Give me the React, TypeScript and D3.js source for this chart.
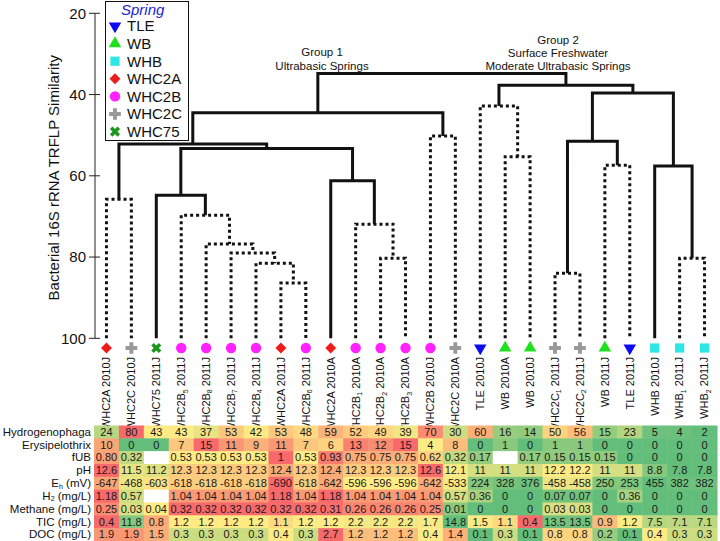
import React from "react";
import * as d3 from "d3";

// leaves of the dendrogram, left to right (underscore = subscript)
const leafLabels = [
  "WHC2A 2010J", "WHC2C 2010J", "WHC75 2011J", "WHC2B_5 2011J", "WHC2B_8 2011J",
  "WHC2B_7 2011J", "WHC2B_4 2011J", "WHC2A 2011J", "WHC2B_6 2011J", "WHC2A 2010A",
  "WHC2B_1 2010A", "WHC2B_2 2010A", "WHC2B_3 2010A", "WHC2B 2010J", "WHC2C 2010A",
  "TLE 2010J", "WB 2010A", "WB 2010J", "WHC2C_1 2011J", "WHC2C_2 2011J",
  "WB 2011J", "TLE 2011J", "WHB 2010J", "WHB_1 2011J", "WHB_2 2011J",
];
const leafSprings = [
  "WHC2A", "WHC2C", "WHC75", "WHC2B", "WHC2B", "WHC2B", "WHC2B", "WHC2A", "WHC2B", "WHC2A",
  "WHC2B", "WHC2B", "WHC2B", "WHC2B", "WHC2C", "TLE", "WB", "WB", "WHC2C", "WHC2C",
  "WB", "TLE", "WHB", "WHB", "WHB",
];

const springNames = ["TLE", "WB", "WHB", "WHC2A", "WHC2B", "WHC2C", "WHC75"];
const springColors = ["#0b0bf2", "#1fe01f", "#2de6e6", "#ee1b1b", "#ff22ff", "#999999", "#1d961d"];
const springShapes = ["triDown", "triUp", "square", "diamond", "circle", "plus", "times"];

// linkage: [child a, child b, similarity]; ids >= 25 are earlier merges
const merges: [number, number, number][] = [
  [7, 8, 86.4], [6, 25, 81.5], [5, 26, 79.0], [4, 27, 76.8], [3, 28, 69.7],
  [2, 29, 64.8], [11, 12, 80.3], [10, 31, 71.9], [9, 32, 61.2], [30, 33, 53.3],
  [0, 1, 65.8], [35, 34, 52.2], [13, 14, 50.2], [36, 37, 44.5], [16, 17, 55.3],
  [15, 39, 42.8], [18, 19, 84.0], [20, 21, 57.4], [41, 42, 51.5], [23, 24, 80.3],
  [22, 44, 57.6], [43, 45, 39.6], [40, 46, 37.7], [38, 47, 34.8],
];
const significant = [
  false, false, false, false, false, true, false, false, true, true,
  false, true, false, true, false, false, false, false, true, false,
  true, true, true, true,
];

const rowLabels = ["Hydrogenophaga", "Erysipelothrix", "fUB", "pH", "E_h (mV)", "H_2 (mg/L)", "Methane (mg/L)", "TIC (mg/L)", "DOC (mg/L)"];
const hydrogenophaga = [24, 80, 43, 43, 37, 53, 42, 53, 48, 59, 52, 49, 39, 70, 30, 60, 16, 14, 50, 56, 15, 23, 5, 4, 2];
const erysipelothrix = [10, 0, 0, 7, 15, 11, 9, 11, 7, 6, 13, 12, 15, 4, 8, 0, 1, 0, 1, 1, 0, 0, 0, 0, 0];
const fUB = [0.8, 0.32, null, 0.53, 0.53, 0.53, 0.53, 1, 0.53, 0.93, 0.75, 0.75, 0.75, 0.62, 0.32, 0.17, null, 0.17, 0.15, 0.15, 0.15, 0, 0, 0, 0];
const pH = [12.6, 11.5, 11.2, 12.3, 12.3, 12.3, 12.3, 12.4, 12.3, 12.4, 12.3, 12.3, 12.3, 12.6, 12.1, 11, 11, 11, 12.2, 12.2, 11, 11, 8.8, 7.8, 7.8];
const eh = [-647, -468, -603, -618, -618, -618, -618, -690, -618, -642, -596, -596, -596, -642, -533, 224, 328, 376, -458, -458, 250, 253, 455, 382, 382];
const h2 = [1.18, 0.57, null, 1.04, 1.04, 1.04, 1.04, 1.18, 1.04, 1.18, 1.04, 1.04, 1.04, 1.04, 0.57, 0.36, 0, 0, 0.07, 0.07, 0, 0.36, 0, 0, 0];
const methane = [0.25, 0.03, 0.04, 0.32, 0.32, 0.32, 0.32, 0.32, 0.32, 0.31, 0.26, 0.26, 0.26, 0.25, 0.01, 0, 0, 0, 0.03, 0.03, 0, 0, 0, 0, 0];
const tic = [0.4, 11.8, 0.8, 1.2, 1.2, 1.2, 1.2, 1.1, 1.2, 1.2, 2.2, 2.2, 2.2, 1.7, 14.8, 1.5, 1.1, 0.4, 13.5, 13.5, 0.9, 1.2, 7.5, 7.1, 7.1];
const doc = [1.9, 1.9, 1.5, 0.3, 0.3, 0.3, 0.3, 0.4, 0.3, 2.7, 1.2, 1.2, 1.2, 0.4, 1.4, 0.1, 0.3, 0.1, 0.8, 0.8, 0.2, 0.1, 0.4, 0.3, 0.3];
const rowValues = [hydrogenophaga, erysipelothrix, fUB, pH, eh, h2, methane, tic, doc];
const lowIsRed = [false, false, false, false, true, false, false, true, false];
const twoDecimals = [false, false, true, false, false, true, true, false, false];

const yTicks = [20, 40, 60, 80, 100];

const RED = "#f8696b", YELLOW = "#ffeb84", GREEN = "#63be7b";
const narrow = "'Liberation Sans Narrow', 'Arial Narrow', sans-serif";
const sans = "'Liberation Sans', Arial, Helvetica, sans-serif";

function symbolPath(shape: string, size: number) {
  if (shape === "triUp" || shape === "triDown") return d3.symbol(d3.symbolTriangle, size * 0.8)();
  if (shape === "square" || shape === "diamond") return d3.symbol(d3.symbolSquare, size * (shape === "diamond" ? 0.7 : 1))();
  if (shape === "circle") return d3.symbol(d3.symbolCircle, size)();
  if (shape === "plus" || shape === "times") return d3.symbol(d3.symbolCross, size * (shape === "times" ? 0.75 : 0.9))();
  return "";
}
function symbolRotate(shape: string) {
  if (shape === "triDown") return 180;
  if (shape === "diamond" || shape === "times") return 45;
  return 0;
}

function Marker({ spring, cx, cy, size }: { spring: string; cx: number; cy: number; size: number }) {
  const i = springNames.indexOf(spring);
  const shape = springShapes[i];
  return (
    <path
      d={symbolPath(shape, size) || ""}
      transform={`translate(${cx},${cy}) rotate(${symbolRotate(shape)})`}
      fill={springColors[i]}
    />
  );
}

function SubText({ label }: { label: string }) {
  // "E_h (mV)" -> E with subscript h
  const m = label.match(/^([^_ ]+)_(\S+)(.*)$/);
  if (!m) return <>{label}</>;
  return (
    <>
      {m[1]}
      <tspan dy={1.5} fontSize={7}>{m[2]}</tspan>
      <tspan dy={-1.5}>{m[3]}</tspan>
    </>
  );
}

export default function App() {
  const W = 720, H = 541;
  const x = d3.scaleBand<number>().domain(d3.range(leafLabels.length)).range([94, 717]);
  const cx = (i: number) => (x(i) as number) + x.bandwidth() / 2;
  const y = d3.scaleLinear().domain([20, 100]).range([13.3, 338.3]);
  const rowY = d3.scaleBand<number>().domain(d3.range(rowLabels.length)).range([425.5, 541]);

  // dendrogram node positions
  const pos: { x: number; y: number }[] = leafLabels.map((_, i) => ({ x: cx(i), y: y(100) }));
  merges.forEach(([a, b, h]) => pos.push({ x: (pos[a].x + pos[b].x) / 2, y: y(h) }));
  const n0 = leafLabels.length;

  const colorFor = (row: number) => {
    const vals = (rowValues[row].filter((v) => v !== null) as number[]);
    const lo = d3.min(vals) as number, hi = d3.max(vals) as number, mid = d3.median(vals) as number;
    return d3.scaleLinear<string>()
      .domain([lo, mid, hi])
      .range(lowIsRed[row] ? [RED, YELLOW, GREEN] : [GREEN, YELLOW, RED])
      .interpolate(d3.interpolateRgb);
  };
  const fmt = (row: number, v: number) =>
    twoDecimals[row] && !Number.isInteger(v) ? v.toFixed(2) : String(v);

  return (
    <div style={{ position: "absolute", left: 0, top: 0 }}>
      <svg width={W} height={H} style={{ display: "block", background: "#fff" }}>
        {/* y axis */}
        <g fontFamily={sans} fontSize={15} fill="#111">
          <line x1={95} x2={95} y1={y(20)} y2={y(100)} stroke="#222" strokeWidth={1} />
          {yTicks.map((t) => (
            <g key={t} transform={`translate(0,${y(t)})`}>
              <line x1={89} x2={100} stroke="#222" strokeWidth={1} />
              <text x={86} dy="0.35em" textAnchor="end">{t}</text>
            </g>
          ))}
          <text transform={`translate(59,${(y(20) + y(100)) / 2 + 2}) rotate(-90)`} textAnchor="middle">
            Bacterial 16S rRNA TRFLP Similarity
          </text>
        </g>

        {/* dendrogram */}
        <g fill="none" stroke="#111" strokeWidth={3} strokeLinejoin="miter">
          {merges.map(([a, b], k) => {
            const n = pos[n0 + k], A = pos[a], B = pos[b];
            return (
              <path
                key={k}
                d={`M${A.x},${A.y}V${n.y}H${B.x}V${B.y}`}
                strokeDasharray={significant[k] ? undefined : "3 3"}
              />
            );
          })}
        </g>

        {/* group labels */}
        <g fontFamily={sans} fontSize={11.5} textAnchor="middle" fill="#111">
          <text x={322} y={56}>Group 1</text>
          <text x={322} y={70}>Ultrabasic Springs</text>
          <text x={558} y={44}>Group 2</text>
          <text x={558} y={57}>Surface Freshwater</text>
          <text x={558} y={70}>Moderate Ultrabasic Springs</text>
        </g>

        {/* leaf markers and labels */}
        {leafLabels.map((lab, i) => {
          const [name, year] = lab.split(" ");
          const [base, sub] = name.split("_");
          return (
            <g key={lab}>
              <Marker spring={leafSprings[i]} cx={cx(i)} cy={348} size={85} />
              <text
                transform={`translate(${cx(i)},357) rotate(-90)`}
                textAnchor="end"
                dy="0.35em"
                fontFamily={narrow}
                fontSize={11}
                fill="#111"
              >
                {base}
                {sub ? <tspan dy={2.5} fontSize={7}>{sub}</tspan> : null}
                <tspan dy={sub ? -2.5 : 0}>{" " + year}</tspan>
              </text>
            </g>
          );
        })}

        {/* heatmap */}
        {rowLabels.map((lab, r) => {
          const col = colorFor(r);
          const ry = rowY(r) as number;
          const rh = rowY.bandwidth();
          return (
            <g key={lab}>
              <text x={91} y={ry + rh / 2} dy="0.33em" textAnchor="end" fontFamily={sans} fontSize={11.5} fill="#111">
                <SubText label={lab} />
              </text>
              {rowValues[r].map((v, i) => (
                <g key={i}>
                  <rect
                    x={x(i)}
                    y={ry}
                    width={x.bandwidth() + 0.5}
                    height={rh + 0.5}
                    fill={v === null ? "#ffffff" : col(v as number)}
                  />
                  {v !== null && (
                    <text
                      x={cx(i)}
                      y={ry + rh / 2}
                      dy="0.35em"
                      textAnchor="middle"
                      fontFamily={narrow}
                      fontSize={11}
                      fill="#1a1a1a"
                    >
                      {fmt(r, v as number)}
                    </text>
                  )}
                </g>
              ))}
            </g>
          );
        })}

        {/* legend */}
        <g>
          <rect x={105.5} y={1.5} width={83} height={139} fill="#fff" stroke="#111" strokeWidth={1} />
          <text x={121} y={15} fontFamily={sans} fontSize={15} fontStyle="italic" fill="#2323d0">Spring</text>
          {springNames.map((s, i) => (
            <g key={s}>
              <Marker spring={s} cx={115} cy={26 + i * 17.6} size={85} />
              <text x={127} y={26 + i * 17.6} dy="0.36em" fontFamily={sans} fontSize={15} fill="#111">{s}</text>
            </g>
          ))}
        </g>
      </svg>
    </div>
  );
}
